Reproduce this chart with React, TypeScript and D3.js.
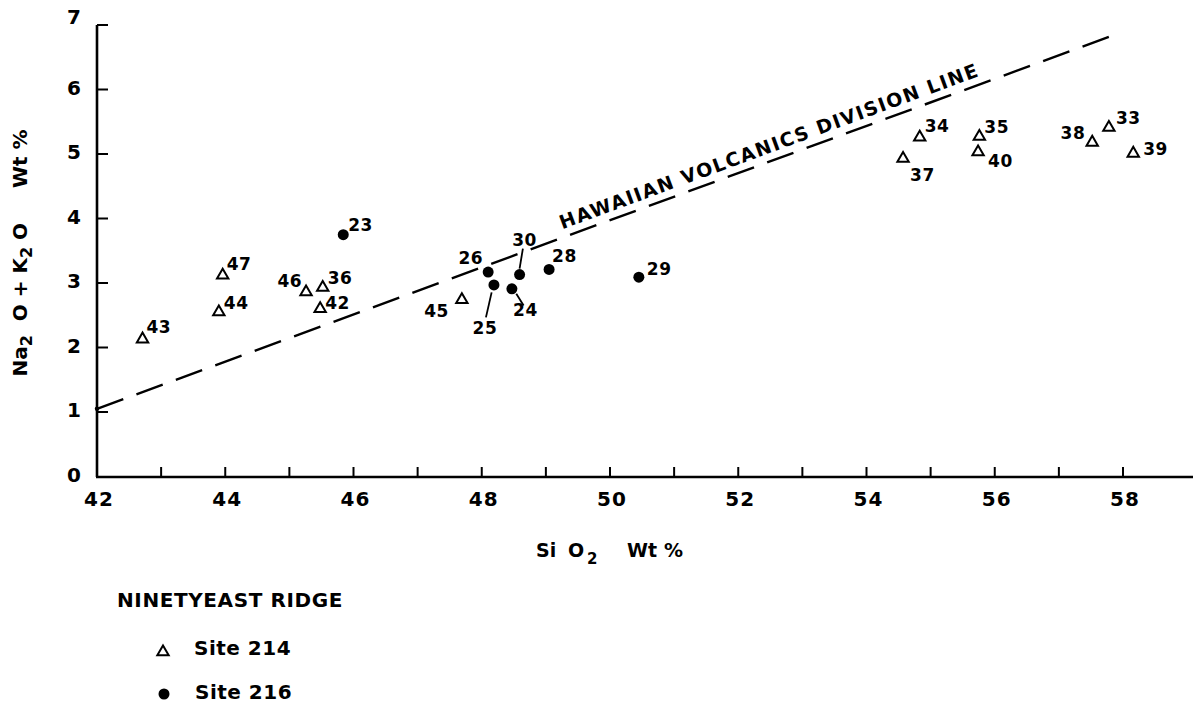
import React from "react";
import * as d3 from "d3";

// Ninetyeast Ridge basalts, SiO2 vs total alkalis
const site214Ids = ["43", "47", "44", "46", "36", "42", "45", "37", "34", "35", "40", "38", "33", "39"];
const site214SiO2 = [42.71, 43.96, 43.9, 45.26, 45.52, 45.48, 47.69, 54.57, 54.83, 55.76, 55.74, 57.52, 57.78, 58.16];
const site214Alkali = [2.13, 3.12, 2.55, 2.86, 2.93, 2.6, 2.74, 4.93, 5.26, 5.27, 5.03, 5.18, 5.41, 5.01];

const site216Ids = ["23", "26", "25", "30", "24", "28", "29"];
const site216SiO2 = [45.84, 48.1, 48.19, 48.59, 48.47, 49.05, 50.45];
const site216Alkali = [3.75, 3.17, 2.97, 3.13, 2.91, 3.21, 3.09];

const divisionSiO2 = [42, 57.9];
const divisionAlkali = [1.05, 6.86];
const divisionLabel = "HAWAIIAN VOLCANICS DIVISION LINE";

const xTickValues = d3.range(43, 59);
const xTickLabels = [42, 44, 46, 48, 50, 52, 54, 56, 58];
const yTickValues = [0, 1, 2, 3, 4, 5, 6, 7];

// label placement next to each sample: [dx, dy, anchor]
const labelPlacement: Record<string, [number, number, string]> = {
  "43": [4, -6, "start"], "47": [4, -5, "start"], "44": [5, -3, "start"],
  "46": [-4, -5, "end"], "36": [5, -4, "start"], "42": [5, 0, "start"],
  "45": [-13, 17, "end"], "37": [7, 22, "start"], "34": [5, -5, "start"],
  "35": [5, -4, "start"], "40": [10, 15, "start"], "38": [-7, -3, "end"],
  "33": [7, -4, "start"], "39": [10, 2, "start"],
  "23": [5, -4, "start"], "26": [-5, -8, "end"], "25": [-9, 49, "middle"],
  "30": [5, -29, "middle"], "24": [13.5, 27, "middle"], "28": [3, -7, "start"],
  "29": [8, -2, "start"],
};
const leaderLines: Record<string, [number, number, number, number]> = {
  "30": [0, -6, 3.3, -26],
  "25": [-2.3, 7.4, -8, 32.4],
  "24": [4.4, 5, 11.7, 16.7],
};

const FONT = "'DejaVu Sans', Verdana, sans-serif";
const W = 1193;
const H = 705;

const App = () => {
  const x = d3.scaleLinear().domain([42, 58]).range([97, 1123]);
  const y = d3.scaleLinear().domain([0, 7]).range([476.5, 25]);
  const axisY = 477;
  const tri = d3.symbol(d3.symbolTriangle, 56)() as string;

  const x1 = x(divisionSiO2[0]), y1 = y(divisionAlkali[0]);
  const x2 = x(divisionSiO2[1]), y2 = y(divisionAlkali[1]);
  const angle = (Math.atan2(y2 - y1, x2 - x1) * 180) / Math.PI;
  const slope = (divisionAlkali[1] - divisionAlkali[0]) / (divisionSiO2[1] - divisionSiO2[0]);
  const labelSi = 49.3;
  const lx = x(labelSi);
  const ly = y(divisionAlkali[0] + slope * (labelSi - divisionSiO2[0]));

  const pointLabel = (id: string, px: number, py: number) => {
    const [dx, dy, anchor] = labelPlacement[id];
    const lead = leaderLines[id];
    return (
      <g key={"l" + id}>
        {lead && (
          <line x1={px + lead[0]} y1={py + lead[1]} x2={px + lead[2]} y2={py + lead[3]}
            stroke="#000" strokeWidth={1.8} />
        )}
        <text x={px + dx} y={py + dy} textAnchor={anchor} fontSize={17} letterSpacing={0.5}>{id}</text>
      </g>
    );
  };

  return (
    <svg width={W} height={H} style={{ position: "absolute", left: 0, top: 0, background: "#fff" }}
      fontFamily={FONT} fontWeight="bold" fill="#000">
      <rect width={W} height={H} fill="#fff" />

      {/* axes */}
      <line x1={97} y1={25} x2={97} y2={axisY} stroke="#000" strokeWidth={2.6} />
      <line x1={96} y1={axisY} x2={W} y2={axisY} stroke="#000" strokeWidth={2.6} />
      {yTickValues.map(v => (
        <g key={"yt" + v}>
          {v > 0 && <line x1={97} x2={108} y1={y(v)} y2={y(v)} stroke="#000" strokeWidth={2} />}
          <text x={81} y={v === 7 ? y(v) - 1 : y(v) + 5} textAnchor="end" fontSize={20}>{v}</text>
        </g>
      ))}
      {xTickValues.map(v => (
        <line key={"xt" + v} x1={x(v)} x2={x(v)} y1={axisY} y2={axisY - 10} stroke="#000" strokeWidth={2} />
      ))}
      {xTickLabels.map(v => (
        <text key={"xl" + v} x={x(v) + 2} y={506} textAnchor="middle" fontSize={20} letterSpacing={1}>{v}</text>
      ))}

      {/* axis titles */}
      <g transform="translate(27,253) rotate(-90)">
        <text textAnchor="middle" fontSize={20} style={{ whiteSpace: "pre" }}>
          <tspan>Na</tspan>
          <tspan dy={5} fontSize={16}>2</tspan>
          <tspan dy={-5}>{"  O + K"}</tspan>
          <tspan dy={5} fontSize={16}>2</tspan>
          <tspan dy={-5}>{" O     Wt %"}</tspan>
        </text>
      </g>
      <text x={536} y={557} fontSize={19}>Si</text>
      <text x={568} y={557} fontSize={19}>O</text>
      <text x={587} y={564} fontSize={15}>2</text>
      <text x={627} y={557} fontSize={19}>Wt</text>
      <text x={664} y={557} fontSize={19}>%</text>

      {/* division line */}
      <line x1={x1} y1={y1} x2={x2} y2={y2} stroke="#000" strokeWidth={2.4} strokeDasharray="28,14" />
      <circle cx={x1} cy={y1} r={2.2} fill="#000" />
      <g transform={`translate(${lx},${ly}) rotate(${angle})`}>
        <text x={0} y={-8} fontSize={19} textLength={444} lengthAdjust="spacing">{divisionLabel}</text>
      </g>

      {/* Site 214 */}
      {site214Ids.map((id, i) => (
        <path key={"t" + id} d={tri} transform={`translate(${x(site214SiO2[i])},${y(site214Alkali[i])})`}
          fill="#fff" stroke="#000" strokeWidth={2} />
      ))}
      {site214Ids.map((id, i) => pointLabel(id, x(site214SiO2[i]), y(site214Alkali[i])))}

      {/* Site 216 */}
      {site216Ids.map((id, i) => (
        <circle key={"c" + id} cx={x(site216SiO2[i])} cy={y(site216Alkali[i])} r={5.5} fill="#000" />
      ))}
      {site216Ids.map((id, i) => pointLabel(id, x(site216SiO2[i]), y(site216Alkali[i])))}

      {/* legend */}
      <text x={117} y={607} fontSize={20} letterSpacing={0.6}>NINETYEAST RIDGE</text>
      <path d={tri} transform="translate(163,652)" fill="#fff" stroke="#000" strokeWidth={2} />
      <text x={194} y={655} fontSize={20} letterSpacing={0.5}>Site 214</text>
      <circle cx={164} cy={694} r={5.5} fill="#000" />
      <text x={195} y={699} fontSize={20} letterSpacing={0.5}>Site 216</text>
    </svg>
  );
};

export default App;
